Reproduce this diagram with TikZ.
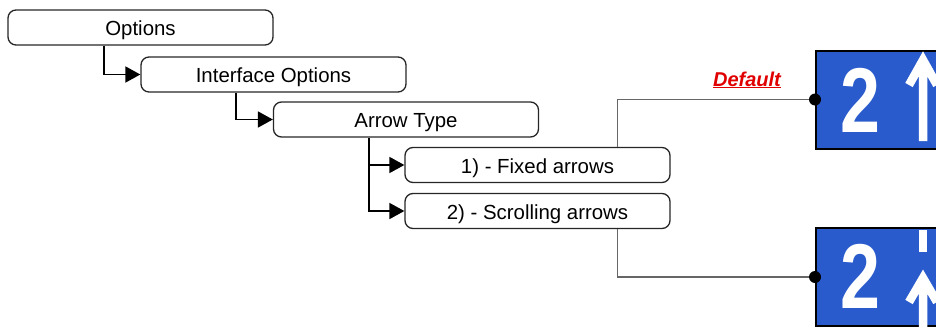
\documentclass[tikz,border=0pt]{standalone}
\usepackage{fontspec}
\setmainfont{Liberation Sans}
\newfontfamily\signfont{Liberation Sans}[FakeStretch=0.78]
\usetikzlibrary{arrows.meta}
\definecolor{signblue}{RGB}{42,91,205}
\definecolor{dfltred}{RGB}{225,0,0}

\begin{document}
\begin{tikzpicture}[x=1pt, y=-1pt,
  menu/.style={draw=black!85, line width=1.3pt, rounded corners=8pt,
    minimum width=265pt, minimum height=35pt, inner sep=0pt,
    text height=16pt, text depth=0pt, font=\fontsize{20.4}{22}\selectfont},
  tree/.style={line width=1.8pt, -{Triangle[length=15pt, width=16pt]}},
  link/.style={draw=black!60, line width=1.2pt},
  sign/.style={draw=black, line width=2pt, fill=signblue, anchor=west,
    minimum width=125pt, minimum height=98pt, inner sep=0pt},
  digit/.style={text=white, inner sep=0pt,
    font=\signfont\bfseries\fontsize{92}{92}\selectfont},
  stem/.style={draw=white, line width=8.5pt, line join=miter}]
  \useasboundingbox (0,0) rectangle (936,327);
  \clip (0,0) rectangle (936,327);

  % Menu tree
  \node[menu] (opts)   at (140.5,27.5) {Options};
  \node[menu] (iface)  at (273.5,74.5) {Interface Options};
  \node[menu] (atype)  at (406,119.5)  {Arrow Type};
  \node[menu] (fixed)  at (537.5,165)  {1) - Fixed arrows};
  \node[menu] (scroll) at (537.5,211)  {2) - Scrolling arrows};

  \draw[tree] ([xshift=97pt]opts.south west) |- (iface.west);
  \draw[tree] ([xshift=96pt]iface.south west) |- (atype.west);
  \draw[tree] ([xshift=96pt]atype.south west) |- (fixed.west);
  \draw[tree] ([xshift=96pt]atype.south west) |- (scroll.west);

  % Signs
  \node[sign] (signA) at (815,99.5) {};
  \node[sign] (signB) at (815,277)  {};
  \node[digit] (twoA) at (860,100) {2};
  \node[digit] (twoB) at (860,276) {2};
  \draw[stem] (909,85) -- (923,60) -- (937,85) (923,60) -- (923,141);
  \draw[stem] (923,230) -- (923,252);
  \draw[stem] (909,302) -- (923,278) -- (937,302) (923,278) -- (923,330);

  % Links to the signs
  \draw[link] ([xshift=80pt]fixed.north) |- (signA.west);
  \draw[link] ([xshift=80pt]scroll.south) |- (signB.west);
  \fill (signA.west) circle (6pt);
  \fill (signB.west) circle (6pt);
  \node[text=dfltred, anchor=base, inner sep=0pt,
    font=\bfseries\itshape\fontsize{20}{22}\selectfont] (dflt) at (747,86) {\underline{Default}};
\end{tikzpicture}
\end{document}
